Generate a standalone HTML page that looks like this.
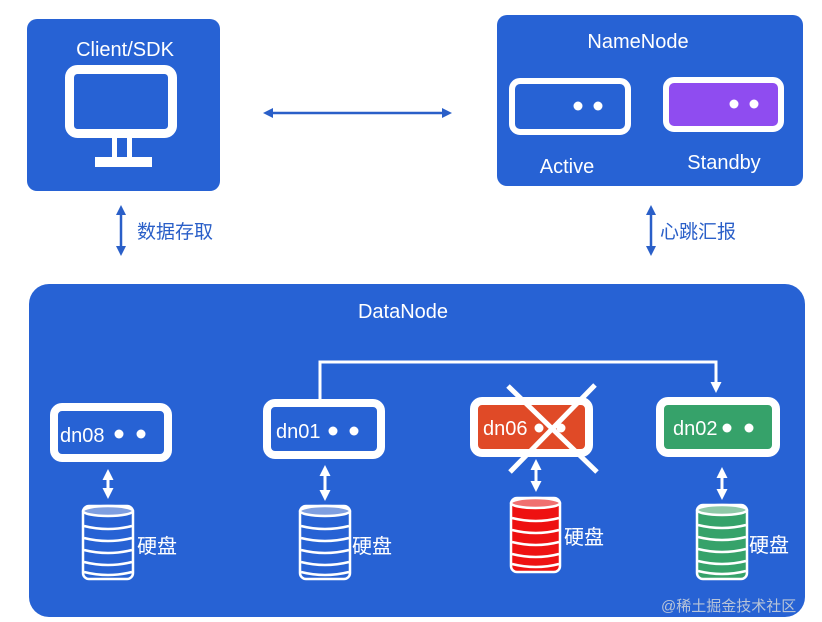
<!DOCTYPE html>
<html><head><meta charset="utf-8"><style>
html,body{margin:0;padding:0;background:#fff;}
svg{display:block;}
text{font-family:"Liberation Sans","Noto Sans CJK SC",sans-serif;}
</style></head><body>
<svg width="822" height="622" viewBox="0 0 822 622" xmlns="http://www.w3.org/2000/svg">
<defs>
<marker id="ab" markerWidth="10" markerHeight="10" refX="7" refY="5" orient="auto-start-reverse" markerUnits="userSpaceOnUse"><path d="M0,0 L10,5 L0,10 z" fill="#2a5fc8"/></marker>
<marker id="aw" markerWidth="11" markerHeight="11" refX="8" refY="5.5" orient="auto-start-reverse" markerUnits="userSpaceOnUse"><path d="M0,0 L11,5.5 L0,11 z" fill="#fff"/></marker>
</defs>
<!-- Client -->
<rect x="27" y="19" width="193" height="172" rx="10" fill="#2762d4"/>
<text x="125" y="56" fill="#fff" font-size="20" text-anchor="middle">Client/SDK</text>
<rect x="69.5" y="69.5" width="103" height="64" rx="8" fill="none" stroke="#fff" stroke-width="9"/>
<rect x="112" y="138" width="5" height="20" fill="#fff"/>
<rect x="127" y="138" width="5" height="20" fill="#fff"/>
<rect x="95" y="157" width="57" height="10" fill="#fff"/>
<!-- NameNode -->
<rect x="497" y="15" width="306" height="171" rx="10" fill="#2762d4"/>
<text x="638" y="48" fill="#fff" font-size="20" text-anchor="middle">NameNode</text>
<rect x="512" y="81" width="116" height="51" rx="8" fill="#2762d4" stroke="#fff" stroke-width="6"/>
<circle cx="578" cy="106" r="4.5" fill="#fff"/><circle cx="598" cy="106" r="4.5" fill="#fff"/>
<rect x="666" y="80" width="115" height="49" rx="8" fill="#8f4cf0" stroke="#fff" stroke-width="6"/>
<circle cx="734" cy="104" r="4.5" fill="#fff"/><circle cx="754" cy="104" r="4.5" fill="#fff"/>
<text x="567" y="173" fill="#fff" font-size="20" text-anchor="middle">Active</text>
<text x="724" y="169" fill="#fff" font-size="20" text-anchor="middle">Standby</text>
<!-- arrows -->
<line x1="266" y1="113" x2="449" y2="113" stroke="#2a5fc8" stroke-width="2.5" marker-start="url(#ab)" marker-end="url(#ab)"/>
<line x1="121" y1="208" x2="121" y2="253" stroke="#2a5fc8" stroke-width="2.5" marker-start="url(#ab)" marker-end="url(#ab)"/>
<line x1="651" y1="208" x2="651" y2="253" stroke="#2a5fc8" stroke-width="2.5" marker-start="url(#ab)" marker-end="url(#ab)"/>
<text x="137" y="238" fill="#2a5fc8" font-size="19">数据存取</text>
<text x="660" y="238" fill="#2a5fc8" font-size="19">心跳汇报</text>
<!-- DataNode -->
<rect x="29" y="284" width="776" height="333" rx="20" fill="#2762d4"/>
<text x="403" y="318" fill="#fff" font-size="20" text-anchor="middle">DataNode</text>
<polyline points="320,399 320,362 716,362 716,390" fill="none" stroke="#fff" stroke-width="3" marker-end="url(#aw)"/>
<!-- dn08 -->
<rect x="54" y="407" width="114" height="51" rx="8" fill="#2762d4" stroke="#fff" stroke-width="8"/>
<text x="60" y="442" fill="#fff" font-size="20">dn08</text>
<circle cx="119" cy="434" r="4.5" fill="#fff"/><circle cx="141" cy="434" r="4.5" fill="#fff"/>
<!-- dn01 -->
<rect x="267" y="403" width="114" height="52" rx="8" fill="#2762d4" stroke="#fff" stroke-width="8"/>
<text x="276" y="438" fill="#fff" font-size="20">dn01</text>
<circle cx="333" cy="431" r="4.5" fill="#fff"/><circle cx="354" cy="431" r="4.5" fill="#fff"/>
<!-- dn06 -->
<rect x="474" y="401" width="115" height="52" rx="8" fill="#e04a27" stroke="#fff" stroke-width="8"/>
<text x="483" y="435" fill="#fff" font-size="20">dn06</text>
<circle cx="539" cy="428" r="4.5" fill="#fff"/><circle cx="561" cy="428" r="4.5" fill="#fff"/>
<line x1="508" y1="386" x2="597" y2="472" stroke="#fff" stroke-width="5"/>
<line x1="595" y1="385" x2="510" y2="472" stroke="#fff" stroke-width="5"/>
<!-- dn02 -->
<rect x="660" y="401" width="116" height="52" rx="8" fill="#36a26a" stroke="#fff" stroke-width="8"/>
<text x="673" y="435" fill="#fff" font-size="20">dn02</text>
<circle cx="727" cy="428" r="4.5" fill="#fff"/><circle cx="749" cy="428" r="4.5" fill="#fff"/>
<!-- small arrows -->
<line x1="108" y1="472" x2="108" y2="496" stroke="#fff" stroke-width="3" marker-start="url(#aw)" marker-end="url(#aw)"/>
<line x1="325" y1="468" x2="325" y2="498" stroke="#fff" stroke-width="3" marker-start="url(#aw)" marker-end="url(#aw)"/>
<line x1="536" y1="462" x2="536" y2="489" stroke="#fff" stroke-width="3" marker-start="url(#aw)" marker-end="url(#aw)"/>
<line x1="722" y1="470" x2="722" y2="497" stroke="#fff" stroke-width="3" marker-start="url(#aw)" marker-end="url(#aw)"/>
<!-- cylinders -->
<g stroke="#fff" stroke-width="2.5">
<g transform="translate(83,506)">
<rect x="0" y="0" width="50" height="73" rx="6" fill="#2762d4"/><ellipse cx="25" cy="5" rx="25" ry="5" fill="#7f9fe0"/>
<path d="M1,20 Q25,26 49,20 M1,32 Q25,38 49,32 M1,44 Q25,50 49,44 M1,56 Q25,62 49,56 M1,66 Q25,72 49,66" fill="none"/></g>
<g transform="translate(300,506)">
<rect x="0" y="0" width="50" height="73" rx="6" fill="#2762d4"/><ellipse cx="25" cy="5" rx="25" ry="5" fill="#7f9fe0"/>
<path d="M1,20 Q25,26 49,20 M1,32 Q25,38 49,32 M1,44 Q25,50 49,44 M1,56 Q25,62 49,56 M1,66 Q25,72 49,66" fill="none"/></g>
<g transform="translate(511,498)">
<rect x="0" y="0" width="49" height="74" rx="6" fill="#ee1111"/><ellipse cx="24.5" cy="5" rx="24.5" ry="5" fill="#f07070"/>
<path d="M1,20 Q25,26 48,20 M1,32 Q25,38 48,32 M1,44 Q25,50 48,44 M1,56 Q25,62 48,56 M1,66 Q25,72 48,66" fill="none"/></g>
<g transform="translate(697,505)">
<rect x="0" y="0" width="50" height="74" rx="6" fill="#36a26a"/><ellipse cx="25" cy="5" rx="25" ry="5" fill="#8fc9a8"/>
<path d="M1,20 Q25,26 49,20 M1,32 Q25,38 49,32 M1,44 Q25,50 49,44 M1,56 Q25,62 49,56 M1,66 Q25,72 49,66" fill="none"/></g>
</g>
<text x="137" y="553" fill="#fff" font-size="20">硬盘</text>
<text x="352" y="553" fill="#fff" font-size="20">硬盘</text>
<text x="564" y="544" fill="#fff" font-size="20">硬盘</text>
<text x="749" y="552" fill="#fff" font-size="20">硬盘</text>
<text x="661" y="611" fill="#b8c4d8" font-size="15">@稀土掘金技术社区</text>
</svg>
</body></html>
